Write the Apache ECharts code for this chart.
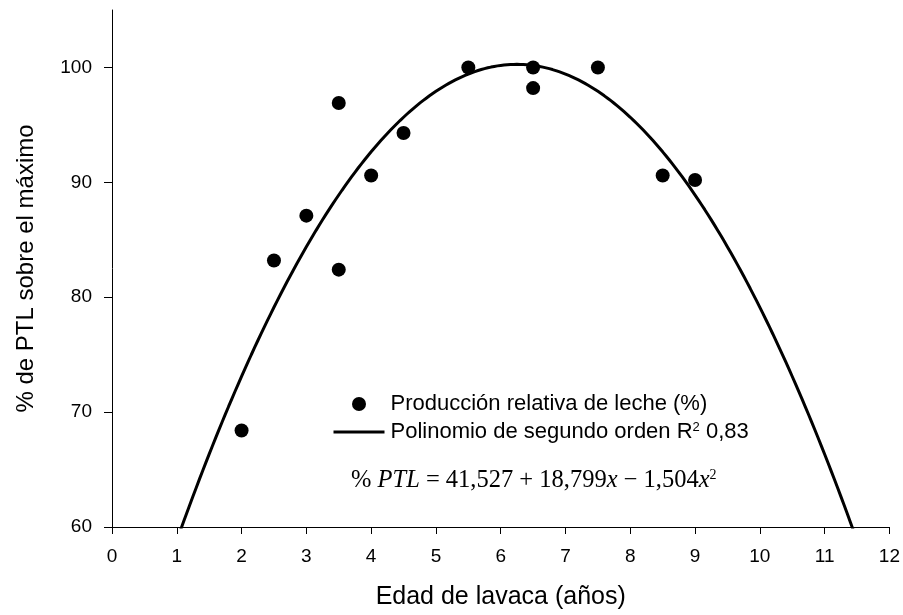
<!DOCTYPE html>
<html>
<head>
<meta charset="utf-8">
<script src="https://cdn.jsdelivr.net/npm/echarts@6/dist/echarts.min.js"></script>
<style>
  html, body { margin: 0; padding: 0; background: #ffffff; }
  #chart { width: 903px; height: 615px; }
</style>
</head>
<body>
<div id="chart"></div>
<script>
// Observed relative milk production by cow age
const ageYears     = [2, 2.5, 3, 3.5, 3.5, 4, 4.5, 5.5, 6.5, 6.5, 7.5, 8.5, 9];
const relativeMilk = [68.4, 83.2, 87.1, 96.9, 82.4, 90.6, 94.3, 100, 100, 98.2, 100, 90.6, 90.2];

// Second-order fit: %PTL = a + b·x + c·x²
const fitCoefficients = [41.527, 18.799, -1.504];
const fitRange = [1.0, 11.5];
const fitStep = 0.05;

// Axis ticks
const xTicks = [0, 1, 2, 3, 4, 5, 6, 7, 8, 9, 10, 11, 12];
const yTicks = [60, 70, 80, 90, 100];

const pointsName = 'Producción relativa de leche (%)';
const fitName = 'Polinomio de segundo orden R² 0,83';

const scatterData = ageYears.map((x, i) => [x, relativeMilk[i]]);

const fitData = [];
for (let x = fitRange[0]; x <= fitRange[1] + 1e-9; x += fitStep) {
  const y = fitCoefficients[0] + fitCoefficients[1] * x + fitCoefficients[2] * x * x;
  fitData.push([+x.toFixed(3), y]);
}

const sans = '"Liberation Sans", Arial, Helvetica, sans-serif';
const serif = '"Liberation Serif", "Times New Roman", serif';

const chart = echarts.init(document.getElementById('chart'), null, { renderer: 'canvas' });

chart.setOption({
  animation: false,
  backgroundColor: '#ffffff',
  textStyle: { fontFamily: sans, color: '#000' },
  grid: { left: 112, right: 13, top: 10, bottom: 88, containLabel: false },
  xAxis: {
    type: 'value',
    min: xTicks[0],
    max: xTicks[xTicks.length - 1],
    interval: 1,
    name: 'Edad de lavaca (años)',
    nameLocation: 'middle',
    nameGap: 58,
    nameTextStyle: { fontFamily: sans, fontSize: 25, color: '#000' },
    axisLine: { show: true, onZero: false, lineStyle: { color: '#000', width: 1 } },
    axisTick: { show: true, inside: false, length: 7, lineStyle: { color: '#000', width: 1 } },
    axisLabel: { fontFamily: sans, fontSize: 19, color: '#000', margin: 20 },
    splitLine: { show: false }
  },
  yAxis: {
    type: 'value',
    min: 60,
    max: 105,
    interval: 10,
    name: '% de PTL sobre el máximo',
    nameLocation: 'middle',
    nameGap: 74,
    nameRotate: 90,
    nameTextStyle: { fontFamily: sans, fontSize: 24, color: '#000' },
    axisLine: { show: true, onZero: false, lineStyle: { color: '#000', width: 1 } },
    axisTick: { show: true, inside: false, length: 8, customValues: yTicks, lineStyle: { color: '#000', width: 1 } },
    axisLabel: { fontFamily: sans, fontSize: 19, color: '#000', margin: 20, customValues: yTicks },
    splitLine: { show: false }
  },
  legend: {
    orient: 'vertical',
    left: 327,
    top: 388,
    itemWidth: 51,
    itemHeight: 14,
    itemGap: 6,
    selectedMode: false,
    data: [
      { name: pointsName, icon: 'circle', itemStyle: { color: '#000', opacity: 1 } },
      {
        name: fitName,
        itemStyle: { color: 'transparent', opacity: 0, borderWidth: 0 },
        lineStyle: { color: '#000', width: 3, opacity: 1 }
      }
    ],
    formatter: function (name) {
      return name === fitName ? 'Polinomio de segundo orden R{sup|2} 0,83' : name;
    },
    textStyle: {
      fontFamily: sans,
      fontSize: 22,
      color: '#000',
      padding: [0, 0, 0, 1],
      rich: {
        sup: { fontFamily: sans, fontSize: 13, color: '#000', verticalAlign: 'top' }
      }
    }
  },
  graphic: [{
    type: 'text',
    left: 351,
    top: 468,
    silent: true,
    style: {
      text: '{n|% }{i|PTL}{n| = 41,527 + 18,799}{i|x}{n| − 1,504}{i|x}{s|2}',
      rich: {
        n: { fontFamily: serif, fontSize: 24.5, color: '#000' },
        i: { fontFamily: serif, fontSize: 24.5, fontStyle: 'italic', color: '#000' },
        s: { fontFamily: serif, fontSize: 14, color: '#000', verticalAlign: 'top' }
      }
    }
  }],
  series: [
    {
      name: fitName,
      type: 'line',
      data: fitData,
      symbol: 'none',
      showSymbol: false,
      smooth: false,
      clip: true,
      lineStyle: { color: '#000', width: 3 },
      itemStyle: { color: '#000' },
      z: 2
    },
    {
      name: pointsName,
      type: 'scatter',
      data: scatterData,
      symbol: 'circle',
      symbolSize: 14,
      itemStyle: { color: '#000', opacity: 1 },
      z: 3
    }
  ]
});
</script>
</body>
</html>
